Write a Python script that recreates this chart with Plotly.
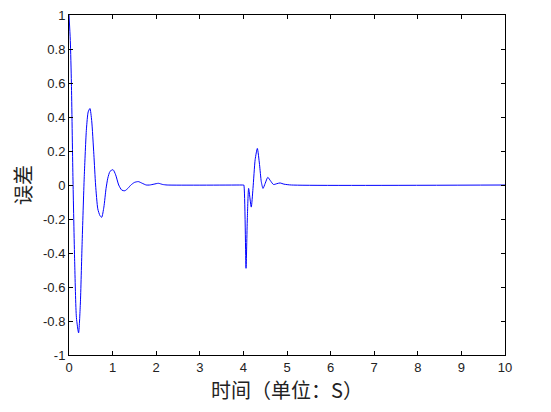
import plotly.graph_objects as go

# error response
t = [0, 0.03, 0.055, 0.09, 0.13, 0.17, 0.22, 0.26, 0.30, 0.35, 0.40, 0.44, 0.48,
     0.52, 0.57, 0.61, 0.66, 0.71, 0.75, 0.80, 0.85, 0.89, 0.94, 1.01, 1.07, 1.14,
     1.21, 1.28, 1.35, 1.42, 1.50, 1.59, 1.68, 1.77, 1.85, 1.95, 2.05, 2.15, 2.25,
     4.0, 4.01, 4.06, 4.09, 4.12, 4.18, 4.22, 4.27, 4.32, 4.37, 4.41, 4.45, 4.50,
     4.56, 4.62, 4.69, 4.77, 4.84, 4.93, 5.1, 10]
err = [1, 0.85, 0.6, 0.05, -0.45, -0.78, -0.87, -0.7, -0.35, 0.05, 0.33, 0.43, 0.45,
       0.38, 0.18, 0.0, -0.14, -0.18, -0.19, -0.13, -0.02, 0.04, 0.08, 0.09, 0.06, 0.0,
       -0.03, -0.034, -0.02, 0.0, 0.015, 0.02, 0.01, 0.0, 0.0, 0.005, 0.01, 0.003, 0,
       0, 0, -0.49, -0.2, -0.02, -0.13, -0.02, 0.15, 0.215, 0.12, 0.02, -0.02, 0.01,
       0.045, 0.025, 0.003, 0.008, 0.012, 0.005, 0, 0]

xticks = [0, 1, 2, 3, 4, 5, 6, 7, 8, 9, 10]
yticks = [-1, -0.8, -0.6, -0.4, -0.2, 0, 0.2, 0.4, 0.6, 0.8, 1]
ytext = ["-1", "-0.8", "-0.6", "-0.4", "-0.2", "0", "0.2", "0.4", "0.6", "0.8", "1"]

fig = go.Figure()
fig.add_trace(go.Scatter(x=t, y=err, mode="lines",
                         line=dict(color="#0000ff", width=1, shape="spline", smoothing=0.6)))

axis_style = dict(showline=True, linecolor="black", linewidth=1, mirror="allticks",
                  ticks="inside", ticklen=4, tickcolor="black", showgrid=False,
                  zeroline=False, automargin=False, ticklabeloverflow="allow",
                  tickfont=dict(family="Liberation Sans", size=13, color="#222"))

# page body has an 8px offset, so margins are shifted to keep the plot box in place
fig.update_layout(
    width=551, height=412,
    margin=dict(l=61, r=54, t=7, b=65),
    plot_bgcolor="white", paper_bgcolor="white",
    showlegend=False,
    xaxis=dict(range=[0, 10], tickvals=xticks,
               title=dict(text="时间（单位：S）", font=dict(family="Noto Sans CJK SC", size=20, color="#222"),
                          standoff=0),
               **axis_style),
    yaxis=dict(range=[-1, 1], tickvals=yticks, ticktext=ytext,
               title=dict(text="误差", font=dict(family="Noto Sans CJK SC", size=20, color="#222"),
                          standoff=6),
               **axis_style),
)

fig.write_html("out.html")
